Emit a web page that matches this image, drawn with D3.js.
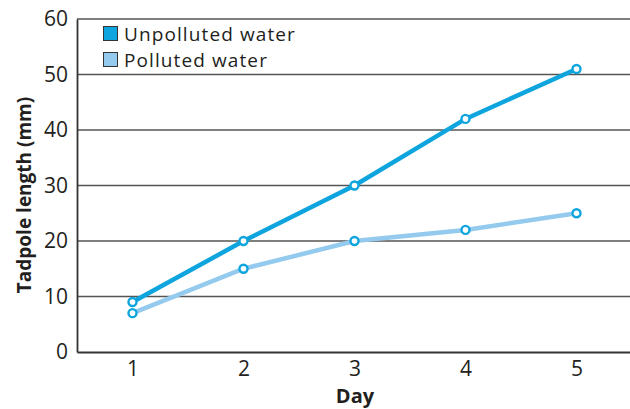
<!DOCTYPE html>
<html>
<head>
<meta charset="utf-8">
<script src="https://cdn.jsdelivr.net/npm/d3@7"></script>
<style>
body { margin: 0; background: #fff; }
text { font-family: "Open Sans", Lato, sans-serif; fill: #231f20; }
</style>
</head>
<body>
<div id="chart"></div>
<script>
var svgWidth = 630;
var svgHeight = 409;

// data
var days = [1, 2, 3, 4, 5];
var unpolluted = [9, 20, 30, 42, 51];
var polluted = [7, 15, 20, 22, 25];
var yTicks = [0, 10, 20, 30, 40, 50, 60];
var seriesNames = ["Unpolluted water", "Polluted water"];
var seriesColors = ["#0ea5de", "#93caee"];

var margin = { top: 19, right: 0, bottom: 57, left: 77 };
var width = svgWidth - margin.left - margin.right;
var height = svgHeight - margin.top - margin.bottom;

var svg = d3.select("#chart")
	.append("svg")
	.attr("width", svgWidth)
	.attr("height", svgHeight);

var chartGroup = svg.append("g")
	.attr("transform", `translate(${margin.left}, ${margin.top})`);

var xScale = d3.scaleLinear().domain([0.5, 5.5]).range([0, 555]);
var yScale = d3.scaleLinear().domain([0, 60]).range([height, 0]);

// gridlines
chartGroup.selectAll(".grid")
	.data(yTicks.filter(d => d > 0))
	.enter()
	.append("line")
	.attr("x1", 0)
	.attr("x2", width)
	.attr("y1", d => yScale(d))
	.attr("y2", d => yScale(d))
	.attr("stroke", "#555")
	.attr("stroke-width", 1.5);

// y axis
var leftAxis = d3.axisLeft(yScale).tickValues(yTicks).tickFormat(d3.format("d")).tickSize(0).tickPadding(9);
var yAxis = chartGroup.append("g").call(leftAxis);
yAxis.select(".domain").attr("stroke", "#333").attr("stroke-width", 1.8);
yAxis.selectAll("text").style("font-size", "21px").attr("fill", "#231f20");

// x axis
var bottomAxis = d3.axisBottom(xScale).tickValues(days).tickFormat(d3.format("d")).tickSize(0).tickPadding(9);
var xAxis = chartGroup.append("g")
	.attr("transform", `translate(0, ${height})`)
	.call(bottomAxis);
xAxis.select(".domain").attr("stroke", "#333").attr("stroke-width", 1.8);
xAxis.selectAll("text").style("font-size", "21px").attr("fill", "#231f20");

// axis titles
svg.append("text")
	.attr("x", 355)
	.attr("y", 403)
	.attr("text-anchor", "middle")
	.style("font-size", "20px")
	.style("font-weight", "bold")
	.text("Day");

svg.append("text")
	.attr("transform", "rotate(-90)")
	.attr("x", -195)
	.attr("y", 31)
	.attr("text-anchor", "middle")
	.style("font-size", "19px")
	.style("font-weight", "bold")
	.text("Tadpole length (mm)");

// lines
var line = d3.line()
	.x((d, i) => xScale(days[i]))
	.y(d => yScale(d));

[polluted, unpolluted].forEach(function(values, k) {
	var color = k === 0 ? seriesColors[1] : seriesColors[0];
	chartGroup.append("path")
		.datum(values)
		.attr("d", line)
		.attr("fill", "none")
		.attr("stroke", color)
		.attr("stroke-width", 4.5);
});

// markers (all drawn with the dark blue ring)
[polluted, unpolluted].forEach(function(values) {
	chartGroup.selectAll(null)
		.data(values)
		.enter()
		.append("circle")
		.attr("cx", (d, i) => xScale(days[i]))
		.attr("cy", d => yScale(d))
		.attr("r", 4)
		.attr("fill", "#fff")
		.attr("stroke", seriesColors[0])
		.attr("stroke-width", 2.4);
});

// legend
var legend = svg.append("g").attr("transform", "translate(103, 26)");
seriesNames.forEach(function(name, i) {
	legend.append("rect")
		.attr("x", 0.5)
		.attr("y", i * 26 + 0.5)
		.attr("width", 14)
		.attr("height", 14)
		.attr("fill", seriesColors[i])
		.attr("stroke", "#333")
		.attr("stroke-width", 1);
	legend.append("text")
		.attr("x", 21)
		.attr("y", i * 26 + 14.5)
		.style("font-size", "19px")
		.style("letter-spacing", "1.1px")
		.text(name);
});
</script>
</body>
</html>
